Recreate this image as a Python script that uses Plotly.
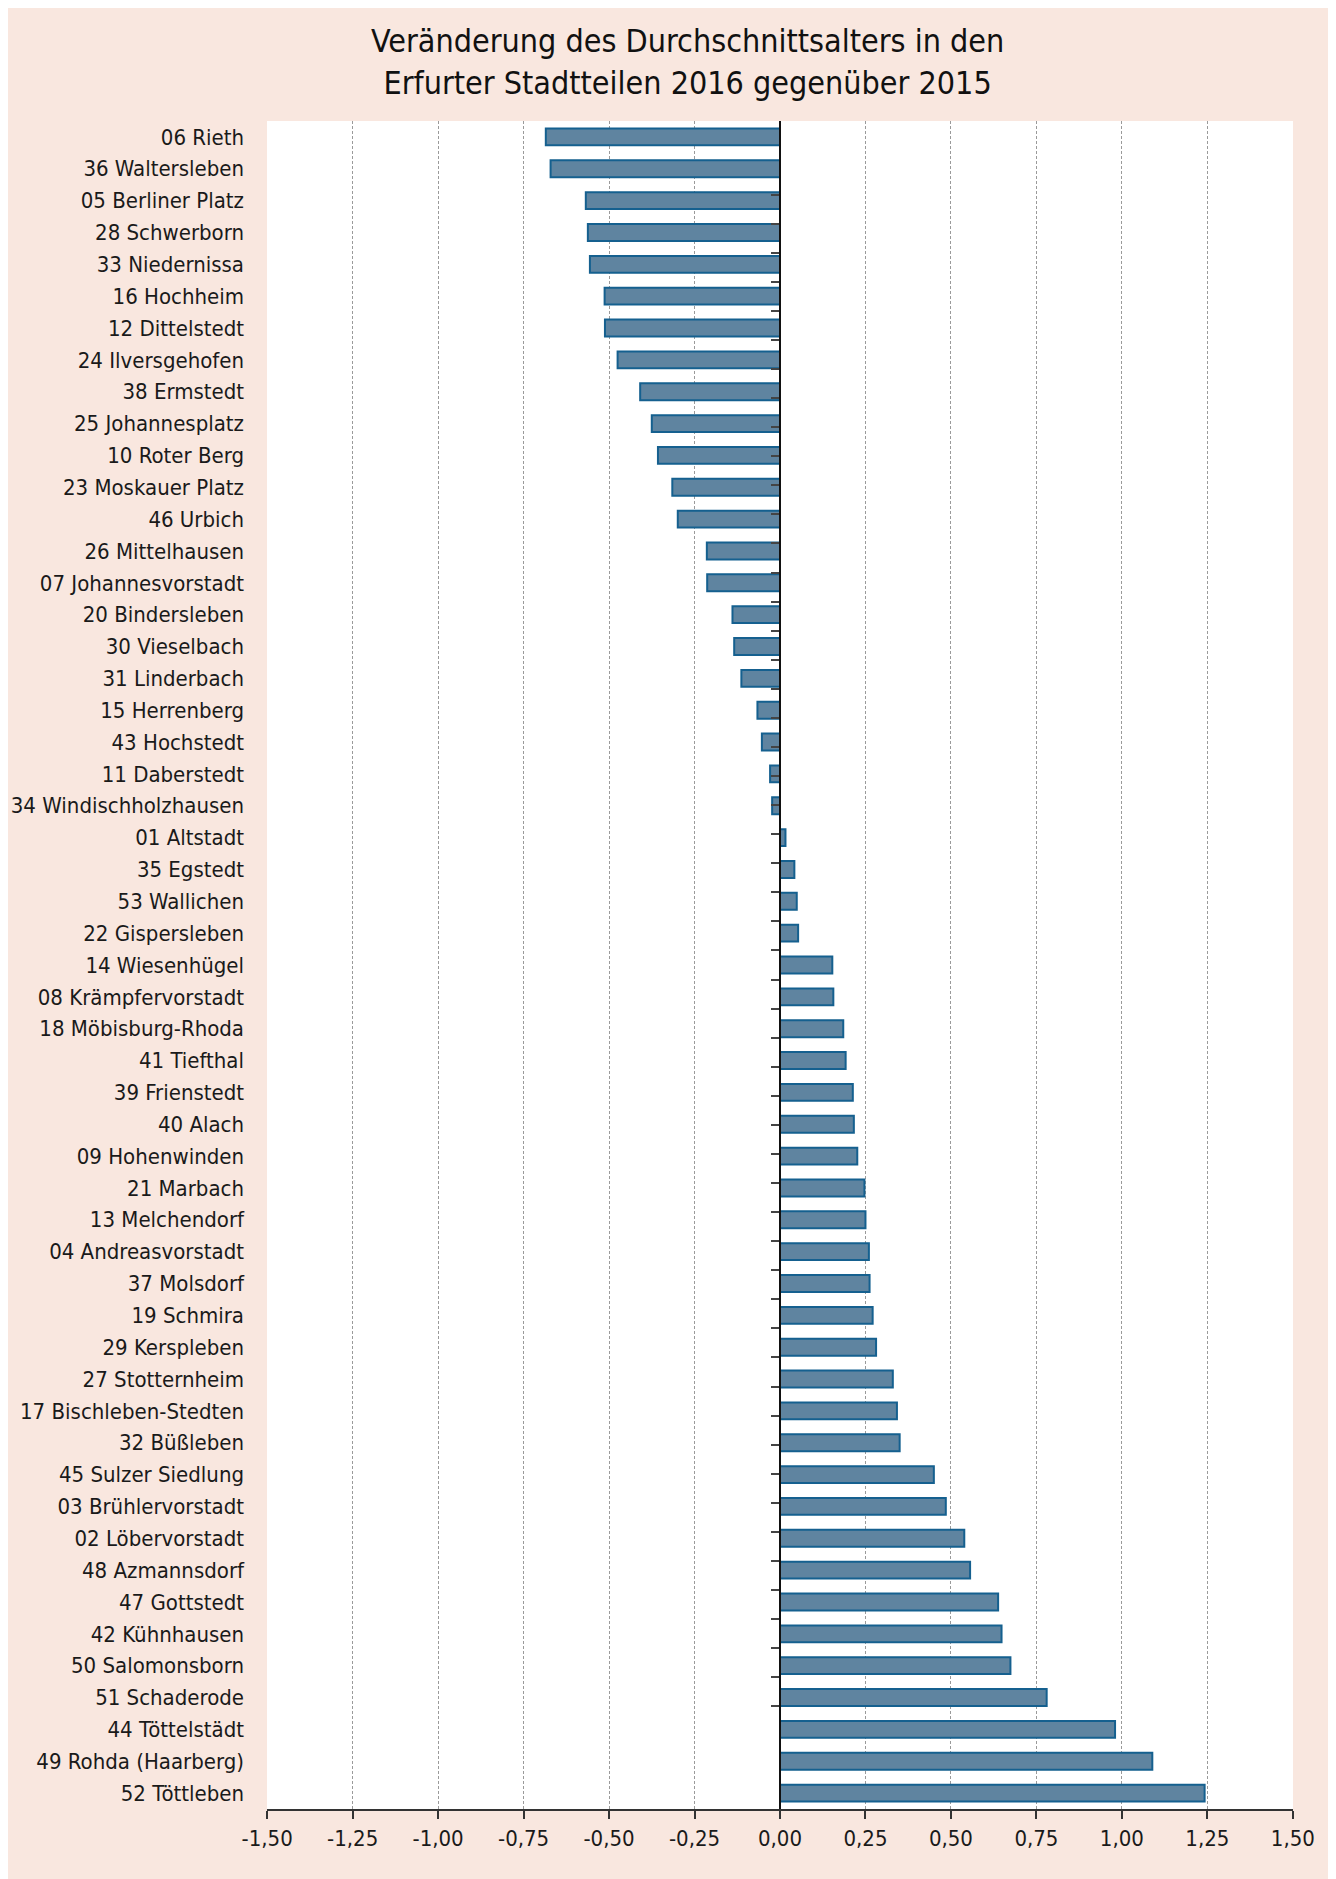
import plotly.graph_objects as go

categories = ["06 Rieth", "36 Waltersleben", "05 Berliner Platz", "28 Schwerborn", "33 Niedernissa",
              "16 Hochheim", "12 Dittelstedt", "24 Ilversgehofen", "38 Ermstedt", "25 Johannesplatz",
              "10 Roter Berg", "23 Moskauer Platz", "46 Urbich", "26 Mittelhausen", "07 Johannesvorstadt",
              "20 Bindersleben", "30 Vieselbach", "31 Linderbach", "15 Herrenberg", "43 Hochstedt",
              "11 Daberstedt", "34 Windischholzhausen", "01 Altstadt", "35 Egstedt", "53 Wallichen",
              "22 Gispersleben", "14 Wiesenhügel", "08 Krämpfervorstadt", "18 Möbisburg-Rhoda", "41 Tiefthal",
              "39 Frienstedt", "40 Alach", "09 Hohenwinden", "21 Marbach", "13 Melchendorf",
              "04 Andreasvorstadt", "37 Molsdorf", "19 Schmira", "29 Kerspleben", "27 Stotternheim",
              "17 Bischleben-Stedten", "32 Büßleben", "45 Sulzer Siedlung", "03 Brühlervorstadt", "02 Löbervorstadt",
              "48 Azmannsdorf", "47 Gottstedt", "42 Kühnhausen", "50 Salomonsborn", "51 Schaderode",
              "44 Töttelstädt", "49 Rohda (Haarberg)", "52 Töttleben"]

values = [-0.685, -0.671, -0.568, -0.562, -0.556, -0.513, -0.512, -0.475, -0.409, -0.375,
          -0.357, -0.315, -0.299, -0.214, -0.213, -0.139, -0.134, -0.113, -0.066, -0.053,
          -0.029, -0.023, 0.016, 0.042, 0.049, 0.053, 0.153, 0.156, 0.185, 0.192,
          0.213, 0.216, 0.226, 0.247, 0.250, 0.260, 0.262, 0.271, 0.281, 0.330,
          0.342, 0.350, 0.450, 0.485, 0.539, 0.556, 0.638, 0.648, 0.674, 0.780,
          0.980, 1.089, 1.242]

tick_vals = [-1.5, -1.25, -1.0, -0.75, -0.5, -0.25, 0.0, 0.25, 0.5, 0.75, 1.0, 1.25, 1.5]
tick_text = ["-1,50", "-1,25", "-1,00", "-0,75", "-0,50", "-0,25", "0,00",
             "0,25", "0,50", "0,75", "1,00", "1,25", "1,50"]

title_text = "Veränderung des Durchschnittsalters in den<br>Erfurter Stadtteilen 2016 gegenüber 2015"

FONT = "DejaVu Sans Condensed, Liberation Sans Narrow, Roboto, sans-serif"
PINK = "#F9E7DF"

W, H = 1336, 1879
ML, MR, MT, MB = 259, 51, 113, 78
PW, PH = W - ML - MR, H - MT - MB

fig = go.Figure()
fig.add_trace(go.Bar(
    x=values, y=categories, orientation="h",
    marker=dict(color="#5F84A0", line=dict(color="#15608F", width=2)),
    hoverinfo="x+y",
))
# invisible helper trace to carry the category axis drawn at x = 0
fig.add_trace(go.Scatter(
    x=[0] * len(categories), y=categories, yaxis="y2", mode="markers",
    marker=dict(opacity=0), hoverinfo="skip", showlegend=False,
))

fig.update_layout(
    width=W, height=H,
    margin=dict(l=ML, r=MR, t=MT, b=MB, pad=0, autoexpand=False),
    paper_bgcolor=PINK, plot_bgcolor="white",
    showlegend=False, bargap=0.47,
    font=dict(family=FONT, size=22, color="#1a1a1a"),
    xaxis=dict(
        automargin=False,
        range=[-1.5005, 1.5005], tickvals=tick_vals, ticktext=tick_text,
        showgrid=True, gridcolor="#9a9a9a", griddash="3px,2px", gridwidth=1,
        zeroline=False, showline=True, linecolor="#333333", linewidth=1.5,
        ticks="outside", ticklen=8, tickcolor="#333333", tickwidth=1.5,
        tickfont=dict(family=FONT, size=22, color="#1a1a1a"),
        ticklabelstandoff=1,
    ),
    yaxis=dict(
        automargin=False,
        type="category", categoryorder="array", categoryarray=categories,
        autorange="reversed", showgrid=False, zeroline=False, showline=False,
        ticks="", ticklabelstandoff=22,
        tickfont=dict(family=FONT, size=22, color="#1a1a1a"),
    ),
    yaxis2=dict(
        automargin=False,
        type="category", categoryorder="array", categoryarray=categories,
        autorange="reversed", overlaying="y", anchor="free", position=0.5, side="left",
        showgrid=False, zeroline=False, showticklabels=False,
        showline=True, linecolor="#111111", linewidth=1.5,
        ticks="outside", tickson="boundaries", ticklen=8, tickcolor="#444444", tickwidth=1.5,
    ),
)

fig.add_annotation(
    text=title_text, xref="paper", yref="paper",
    x=(679 - ML) / PW, y=(H - MB - 54) / PH,
    xanchor="center", yanchor="middle", showarrow=False,
    font=dict(family=FONT, size=32, color="#111111"),
)

fig.write_html("out.html")
